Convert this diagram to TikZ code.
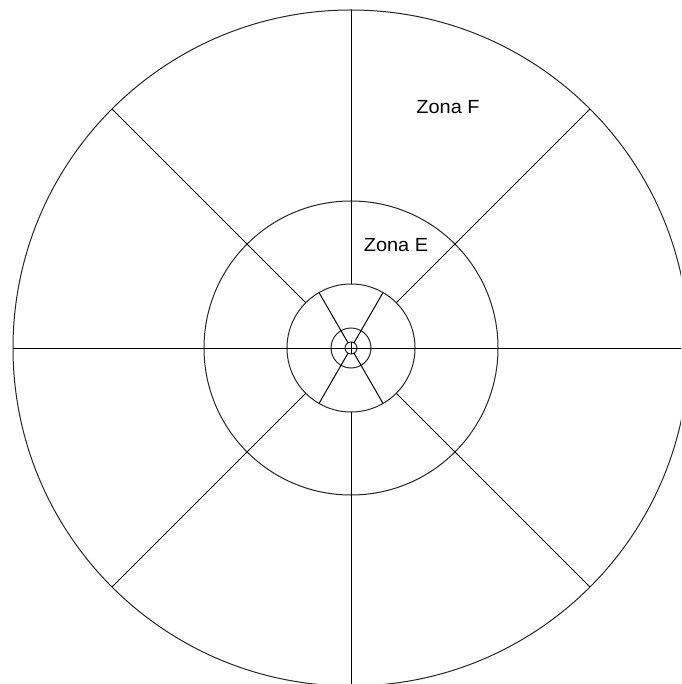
\documentclass[tikz,border=0pt]{standalone}
\usepackage{fontspec}
\setmainfont{Liberation Sans}
\usetikzlibrary{calc}
\begin{document}
\begin{tikzpicture}[x=1pt,y=-1pt,line width=1pt,
  ring/.style={draw=black!85},
  spoke/.style={draw=black},
  zlabel/.style={font=\fontsize{19}{21}\selectfont,inner sep=0pt,xscale=1.05}]
\useasboundingbox (0,0) rectangle (681,684);
\clip (0,0) rectangle (681,684);
\coordinate (c) at (351,348);
% rings
\draw[ring] (c) circle[radius=338];
\draw[ring] (c) circle[radius=147];
\draw[ring] (c) circle[radius=64];
\draw[ring] (c) circle[radius=20];
\draw[ring] (c) circle[radius=6];
% horizontal full diameter
\coordinate (W) at ($(c)+(-338,0)$);
\coordinate (E) at ($(c)+(338,0)$);
\draw[spoke] (W) -- (E);
% vertical: outer to ring D, and inside the tiny circle
\coordinate (N1) at ($(c)+(0,-338)$);
\coordinate (N2) at ($(c)+(0,-64)$);
\coordinate (S1) at ($(c)+(0,338)$);
\coordinate (S2) at ($(c)+(0,64)$);
\draw[spoke] (N1) -- (N2);
\draw[spoke] (S1) -- (S2);
\coordinate (n0) at ($(c)+(0,-6)$);
\coordinate (s0) at ($(c)+(0,6)$);
\draw[spoke] (n0) -- (s0);
% diagonals: outer to ring D
\foreach \a in {45,135,225,315}{
  \coordinate (d1\a) at ($(c)+(\a:338)$);
  \coordinate (d2\a) at ($(c)+(\a:64)$);
  \draw[spoke] (d1\a) -- (d2\a);
}
% inner spokes at 60 deg: ring D to tiny circle
\foreach \a in {60,120,240,300}{
  \coordinate (i1\a) at ($(c)+(\a:64)$);
  \coordinate (i2\a) at ($(c)+(\a:6)$);
  \draw[spoke] (i1\a) -- (i2\a);
}
\node[zlabel] (zf) at (448,107) {Zona F};
\node[zlabel] (ze) at (396,245.5) {Zona E};
\end{tikzpicture}
\end{document}
